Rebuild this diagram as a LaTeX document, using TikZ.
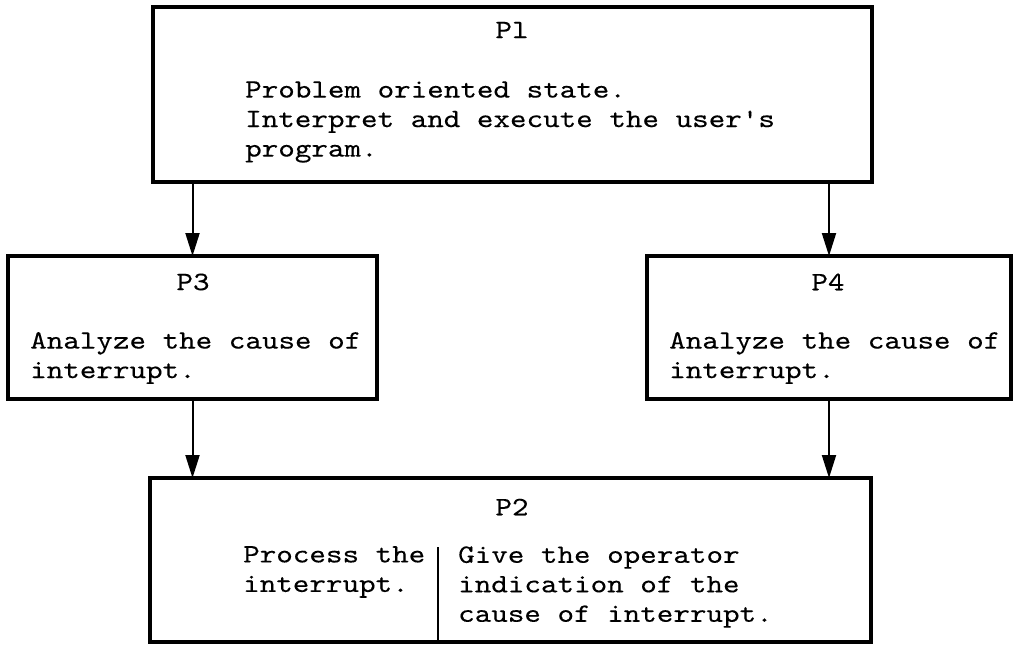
\documentclass[tikz,border=0pt]{standalone}
\usepackage{fontspec}
\newfontfamily\typewriter{lmmono10-regular}[Extension=.otf, FakeStretch=1.19, FakeBold=0.2]
\usetikzlibrary{arrows.meta}

\tikzset{
  procbox/.style={draw, line width=3.8pt, inner sep=0pt, outer sep=0pt},
  txt/.style={inner sep=0pt, align=left,
    font=\typewriter\fontsize{26.5}{29.5}\selectfont},
  flow/.style={line width=2pt, -{Triangle[length=23pt,width=14pt]}},
  divider/.style={line width=2.5pt}
}

\begin{document}
\begin{tikzpicture}[x=1pt, y=-1pt]
  \useasboundingbox (0,0) rectangle (1018,649);

  % process boxes
  \node[procbox, minimum width=719pt, minimum height=175pt] (P1) at (512.5,94.5) {};
  \node[procbox, minimum width=369pt, minimum height=143pt] (P3) at (192.5,327.5) {};
  \node[procbox, minimum width=364pt, minimum height=143pt] (P4) at (829,327.5) {};
  \node[procbox, minimum width=721pt, minimum height=164pt] (P2) at (510.5,560) {};

  % texts of P1
  \node[txt] (t1) at (512,30) {Pl};
  \node[txt, anchor=west] (d1) at (245,122) {Problem oriented state.\\Interpret and execute the user's\\program.};

  % texts of P3 and P4
  \node[txt] (t3) at (193,282) {P3};
  \node[txt, anchor=west] (d3) at (30,358) {Analyze the cause of\\interrupt.};
  \node[txt] (t4) at (828,282) {P4};
  \node[txt, anchor=west] (d4) at (669,358) {Analyze the cause of\\interrupt.};

  % texts of P2, split by a vertical rule
  \node[txt] (t2) at (512,507) {P2};
  \node[txt, anchor=west] (d2a) at (243,572) {Process the\\interrupt.};
  \node[txt, anchor=west] (d2b) at (458,587) {Give the operator\\indication of the\\cause of interrupt.};
  \coordinate (split) at (438,547);
  \draw[divider] (split) -- (split |- P2.south);

  % control flow
  \draw[flow] (P1.south -| P3.north) -- (P3.north);
  \draw[flow] (P1.south -| P4.north) -- (P4.north);
  \draw[flow] (P3.south) -- (P3.south |- P2.north);
  \draw[flow] (P4.south) -- (P4.south |- P2.north);
\end{tikzpicture}
\end{document}
